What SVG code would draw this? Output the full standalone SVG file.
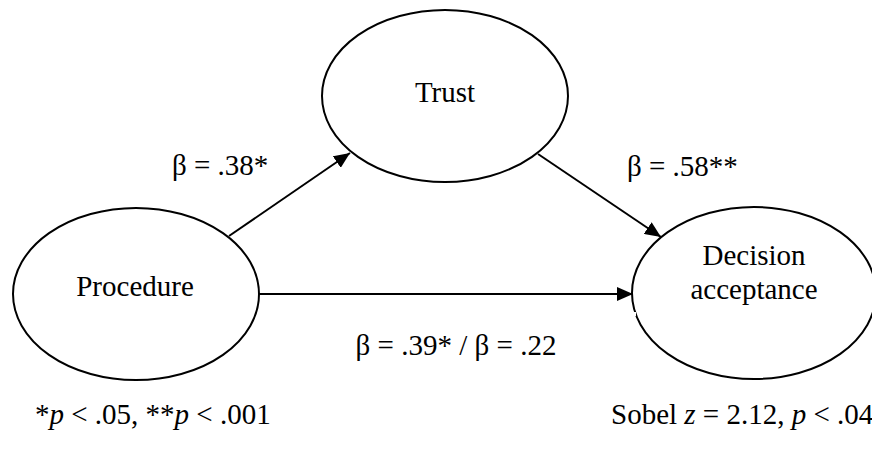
<svg xmlns="http://www.w3.org/2000/svg" width="872" height="454" viewBox="0 0 872 454">
  <style>
    .node { fill: #ffffff; stroke: #000000; stroke-width: 2; }
    .lbl { font-family: "Liberation Serif", "Times New Roman", serif; font-size: 29px; fill: #000000; }
    .mid { text-anchor: middle; }
    .edge { stroke: #000000; stroke-width: 2; fill: none; marker-end: url(#arrow); }
  </style>
  <defs>
    <marker id="arrow" markerUnits="userSpaceOnUse" markerWidth="17" markerHeight="14" refX="16" refY="7" orient="auto">
      <path d="M0,0 L16,7 L0,14 z" fill="#000000"/>
    </marker>
  </defs>
  <rect width="872" height="454" fill="#ffffff"/>
  <g id="connectors">
    <line class="edge" x1="229" y1="236" x2="350" y2="153"/>
    <line class="edge" x1="538" y1="154" x2="661" y2="237"/>
    <line class="edge" x1="259" y1="294" x2="633" y2="294"/>
  </g>
  <g id="trust">
    <ellipse class="node" cx="445" cy="96" rx="123" ry="86"/>
    <text class="lbl mid" x="445" y="102">Trust</text>
  </g>
  <g id="procedure">
    <ellipse class="node" cx="136" cy="294" rx="123" ry="86"/>
    <text class="lbl mid" x="135" y="296">Procedure</text>
  </g>
  <g id="decision">
    <ellipse class="node" cx="754" cy="293" rx="122" ry="86"/>
    <rect x="631" y="312" width="5" height="4" fill="#ffffff"/>
    <text class="lbl mid" x="754" y="265">Decision</text>
    <text class="lbl mid" x="754" y="299">acceptance</text>
  </g>
  <g id="labels">
    <text class="lbl" x="172" y="175">β = .38*</text>
    <text class="lbl" x="627" y="176">β = .58**</text>
    <text class="lbl mid" x="456" y="355">β = .39* / β = .22</text>
    <text class="lbl" x="35" y="424">*<tspan font-style="italic">p</tspan> &lt; .05, **<tspan font-style="italic">p</tspan> &lt; .001</text>
    <text class="lbl" x="611" y="424">Sobel <tspan font-style="italic">z</tspan> = 2.12, <tspan font-style="italic">p</tspan> &lt; .04</text>
  </g>
</svg>
